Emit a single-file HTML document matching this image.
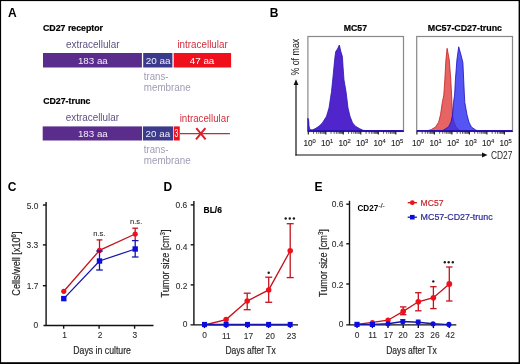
<!DOCTYPE html>
<html><head><meta charset="utf-8"><style>
html,body{margin:0;padding:0;background:#fff;overflow:hidden;}
svg{display:block;will-change:transform;}
text{font-family:"Liberation Sans",sans-serif;}
.b{font-weight:bold;}
</style></head><body>
<svg width="520" height="364" viewBox="0 0 520 364">
<rect x="0" y="0" width="520" height="364" fill="#000"/>
<rect x="1.1" y="1.1" width="517.5" height="361.1" fill="#fff"/>
<text x="8" y="16.8" font-size="12" fill="#000" font-weight="bold">A</text>
<text x="269.8" y="17" font-size="12" fill="#000" font-weight="bold">B</text>
<text x="7.8" y="191" font-size="12" fill="#000" font-weight="bold">C</text>
<text x="163.5" y="191" font-size="12" fill="#000" font-weight="bold">D</text>
<text x="314.6" y="191" font-size="12" fill="#000" font-weight="bold">E</text>
<text x="43" y="30.7" font-size="8.8" fill="#000" font-weight="bold" textLength="60" lengthAdjust="spacingAndGlyphs" stroke="#000" stroke-width="0.2">CD27 receptor</text>
<text x="66" y="47.6" font-size="10" fill="#5e5284" textLength="53.6" lengthAdjust="spacingAndGlyphs">extracellular</text>
<text x="177.4" y="47.9" font-size="10" fill="#d02f3c" textLength="50.4" lengthAdjust="spacingAndGlyphs">intracellular</text>
<rect x="43" y="53" width="98.9" height="14.5" fill="#5a2d8c"/>
<rect x="143.2" y="53" width="29.2" height="14.5" fill="#3c3a8a"/>
<rect x="173.7" y="53" width="57.4" height="14.5" fill="#ef101c"/>
<text x="77.9" y="63.6" font-size="9.7" fill="#f4eefa" textLength="29.9" lengthAdjust="spacingAndGlyphs">183 aa</text>
<text x="145.7" y="63.5" font-size="9.6" fill="#f0f0fa" textLength="24.9" lengthAdjust="spacingAndGlyphs">20 aa</text>
<text x="189.8" y="63.7" font-size="9.7" fill="#fff" textLength="24.5" lengthAdjust="spacingAndGlyphs">47 aa</text>
<text x="143.8" y="79.9" font-size="10" fill="#a09cb4" textLength="24.6" lengthAdjust="spacingAndGlyphs">trans-</text>
<text x="143.8" y="91.3" font-size="10" fill="#a09cb4" textLength="46.9" lengthAdjust="spacingAndGlyphs">membrane</text>
<text x="43.2" y="104.1" font-size="8.8" fill="#000" font-weight="bold" textLength="47.3" lengthAdjust="spacingAndGlyphs" stroke="#000" stroke-width="0.2">CD27-trunc</text>
<text x="65.8" y="121.4" font-size="10" fill="#5e5284" textLength="53.2" lengthAdjust="spacingAndGlyphs">extracellular</text>
<text x="179.7" y="121.5" font-size="10" fill="#d02f3c" textLength="49.7" lengthAdjust="spacingAndGlyphs">intracellular</text>
<rect x="42.7" y="126.4" width="99.3" height="14.1" fill="#5a2d8c"/>
<rect x="142.9" y="126.4" width="30.1" height="14.1" fill="#3c3a8a"/>
<rect x="173.7" y="126.4" width="6.05" height="14.1" fill="#ef101c"/>
<text x="77.9" y="137" font-size="9.7" fill="#f4eefa" textLength="29.9" lengthAdjust="spacingAndGlyphs">183 aa</text>
<text x="145.6" y="137" font-size="9.6" fill="#f0f0fa" textLength="24.5" lengthAdjust="spacingAndGlyphs">20 aa</text>
<text x="174.4" y="137" font-size="10" fill="#fff" textLength="3.9" lengthAdjust="spacingAndGlyphs">3</text>
<line x1="179.7" y1="133.6" x2="229.9" y2="133.6" stroke="#b83038" stroke-width="1.3"/>
<path d="M196.3 128.2 L205.6 139.4 M205.4 128.2 L196 139.4" stroke="#dc1e2a" stroke-width="2" fill="none"/>
<text x="143.8" y="152.6" font-size="10" fill="#a09cb4" textLength="24.6" lengthAdjust="spacingAndGlyphs">trans-</text>
<text x="143.8" y="164.4" font-size="10" fill="#a09cb4" textLength="46.9" lengthAdjust="spacingAndGlyphs">membrane</text>
<text x="343.8" y="31.1" font-size="8.9" fill="#000" font-weight="bold" textLength="23.2" lengthAdjust="spacingAndGlyphs" stroke="#000" stroke-width="0.2">MC57</text>
<text x="427.8" y="30.9" font-size="8.9" fill="#000" font-weight="bold" textLength="74.2" lengthAdjust="spacingAndGlyphs" stroke="#000" stroke-width="0.2">MC57-CD27-trunc</text>
<g transform="translate(299.3,75.6) rotate(-90) scale(0.85,1)"><text x="0" y="0" font-size="10.4" fill="#2a2a2a" stroke="#2a2a2a" stroke-width="0.06">% of max</text></g>
<line x1="296" y1="83" x2="296" y2="155.6" stroke="#111" stroke-width="1.2"/>
<path d="M293.6 85 L296 79.3 L298.4 85 Z" fill="#111"/>
<line x1="295.4" y1="155" x2="483" y2="155" stroke="#111" stroke-width="1.2"/>
<path d="M482 152.6 L487.5 155 L482 157.4 Z" fill="#111"/>
<text x="491" y="159.4" font-size="10" fill="#262626" textLength="21.4" lengthAdjust="spacingAndGlyphs">CD27</text>
<rect x="307.9" y="36.5" width="95.60000000000002" height="95.0" fill="none" stroke="#888" stroke-width="1.2"/>
<rect x="416.7" y="36.5" width="95.80000000000001" height="95.0" fill="none" stroke="#888" stroke-width="1.2"/>
<path d="M307.8 131.3 L307.8 118.2 L308.6 119.5 L309 126 L309.8 129.4 L312 130 L315 128.8 L319 126.2 L322.4 122.9 L326.5 116.3 L329 108 L331.5 91.5 L333.2 75 L333.9 67.5 L335 56.5 L335.75 51.5 L337.5 49 L339.3 45 L340.2 48.5 L340.7 51 L342.4 56.5 L343.1 67.5 L344 80 L346 91.5 L348 108 L350 116.3 L352.6 122.9 L355.4 126.2 L359.5 128.6 L363 130.3 L370 131 L403.5 131 L403.5 131.5 Z" fill="#5026cc" stroke="#2a14b8" stroke-width="0.8"/>
<path d="M425 131.5 L431.2 129.6 L435.5 127.1 L438.6 122.2 L440.5 114.8 L442.3 102.4 L443.8 95 L444.8 80 L445.9 60 L447.1 48.3 L449.3 60 L450.8 80 L451.6 95 L452 105 L452.5 115 L454 122 L456 127 L459 130 L462 131.5 Z" fill="#dd3030" fill-opacity="0.75" stroke="#c81e1e" stroke-width="0.8"/>
<path d="M440 131.5 L443.6 130 L448.5 127 L451 122 L452.5 114.8 L453.5 102.4 L454.6 95 L455.4 80 L456.9 60 L458.7 46.8 L461 55 L462.9 62.6 L463.7 80 L464.4 95 L464.8 102.4 L467 114.8 L468.9 122 L471.4 127 L475.7 130 L480 131.3 L512.5 131.5 Z" fill="#2a2af0" fill-opacity="0.8" stroke="#1a10c0" stroke-width="0.8"/>
<line x1="307.9" y1="130.9" x2="403.5" y2="130.9" stroke="#2a12b0" stroke-width="1.6"/>
<line x1="416.7" y1="130.9" x2="512.5" y2="130.9" stroke="#2a12b0" stroke-width="1.6"/>
<line x1="308.30" y1="131.6" x2="308.30" y2="134.6" stroke="#111" stroke-width="1.1"/>
<line x1="313.57" y1="131.6" x2="313.57" y2="133.8" stroke="#111" stroke-width="0.7"/>
<line x1="316.65" y1="131.6" x2="316.65" y2="133.8" stroke="#111" stroke-width="0.7"/>
<line x1="318.84" y1="131.6" x2="318.84" y2="133.8" stroke="#111" stroke-width="0.7"/>
<line x1="320.53" y1="131.6" x2="320.53" y2="133.8" stroke="#111" stroke-width="0.7"/>
<line x1="321.92" y1="131.6" x2="321.92" y2="133.8" stroke="#111" stroke-width="0.7"/>
<line x1="323.09" y1="131.6" x2="323.09" y2="133.8" stroke="#111" stroke-width="0.7"/>
<line x1="324.10" y1="131.6" x2="324.10" y2="133.8" stroke="#111" stroke-width="0.7"/>
<line x1="325.00" y1="131.6" x2="325.00" y2="133.8" stroke="#111" stroke-width="0.7"/>
<line x1="325.80" y1="131.6" x2="325.80" y2="134.6" stroke="#111" stroke-width="1.1"/>
<line x1="331.07" y1="131.6" x2="331.07" y2="133.8" stroke="#111" stroke-width="0.7"/>
<line x1="334.15" y1="131.6" x2="334.15" y2="133.8" stroke="#111" stroke-width="0.7"/>
<line x1="336.34" y1="131.6" x2="336.34" y2="133.8" stroke="#111" stroke-width="0.7"/>
<line x1="338.03" y1="131.6" x2="338.03" y2="133.8" stroke="#111" stroke-width="0.7"/>
<line x1="339.42" y1="131.6" x2="339.42" y2="133.8" stroke="#111" stroke-width="0.7"/>
<line x1="340.59" y1="131.6" x2="340.59" y2="133.8" stroke="#111" stroke-width="0.7"/>
<line x1="341.60" y1="131.6" x2="341.60" y2="133.8" stroke="#111" stroke-width="0.7"/>
<line x1="342.50" y1="131.6" x2="342.50" y2="133.8" stroke="#111" stroke-width="0.7"/>
<line x1="343.30" y1="131.6" x2="343.30" y2="134.6" stroke="#111" stroke-width="1.1"/>
<line x1="348.57" y1="131.6" x2="348.57" y2="133.8" stroke="#111" stroke-width="0.7"/>
<line x1="351.65" y1="131.6" x2="351.65" y2="133.8" stroke="#111" stroke-width="0.7"/>
<line x1="353.84" y1="131.6" x2="353.84" y2="133.8" stroke="#111" stroke-width="0.7"/>
<line x1="355.53" y1="131.6" x2="355.53" y2="133.8" stroke="#111" stroke-width="0.7"/>
<line x1="356.92" y1="131.6" x2="356.92" y2="133.8" stroke="#111" stroke-width="0.7"/>
<line x1="358.09" y1="131.6" x2="358.09" y2="133.8" stroke="#111" stroke-width="0.7"/>
<line x1="359.10" y1="131.6" x2="359.10" y2="133.8" stroke="#111" stroke-width="0.7"/>
<line x1="360.00" y1="131.6" x2="360.00" y2="133.8" stroke="#111" stroke-width="0.7"/>
<line x1="360.80" y1="131.6" x2="360.80" y2="134.6" stroke="#111" stroke-width="1.1"/>
<line x1="366.07" y1="131.6" x2="366.07" y2="133.8" stroke="#111" stroke-width="0.7"/>
<line x1="369.15" y1="131.6" x2="369.15" y2="133.8" stroke="#111" stroke-width="0.7"/>
<line x1="371.34" y1="131.6" x2="371.34" y2="133.8" stroke="#111" stroke-width="0.7"/>
<line x1="373.03" y1="131.6" x2="373.03" y2="133.8" stroke="#111" stroke-width="0.7"/>
<line x1="374.42" y1="131.6" x2="374.42" y2="133.8" stroke="#111" stroke-width="0.7"/>
<line x1="375.59" y1="131.6" x2="375.59" y2="133.8" stroke="#111" stroke-width="0.7"/>
<line x1="376.60" y1="131.6" x2="376.60" y2="133.8" stroke="#111" stroke-width="0.7"/>
<line x1="377.50" y1="131.6" x2="377.50" y2="133.8" stroke="#111" stroke-width="0.7"/>
<line x1="378.30" y1="131.6" x2="378.30" y2="134.6" stroke="#111" stroke-width="1.1"/>
<line x1="383.57" y1="131.6" x2="383.57" y2="133.8" stroke="#111" stroke-width="0.7"/>
<line x1="386.65" y1="131.6" x2="386.65" y2="133.8" stroke="#111" stroke-width="0.7"/>
<line x1="388.84" y1="131.6" x2="388.84" y2="133.8" stroke="#111" stroke-width="0.7"/>
<line x1="390.53" y1="131.6" x2="390.53" y2="133.8" stroke="#111" stroke-width="0.7"/>
<line x1="391.92" y1="131.6" x2="391.92" y2="133.8" stroke="#111" stroke-width="0.7"/>
<line x1="393.09" y1="131.6" x2="393.09" y2="133.8" stroke="#111" stroke-width="0.7"/>
<line x1="394.10" y1="131.6" x2="394.10" y2="133.8" stroke="#111" stroke-width="0.7"/>
<line x1="395.00" y1="131.6" x2="395.00" y2="133.8" stroke="#111" stroke-width="0.7"/>
<line x1="395.80" y1="131.6" x2="395.80" y2="134.6" stroke="#111" stroke-width="1.1"/>
<text x="303.40" y="146.2" font-size="8.2" fill="#222" stroke="#222" stroke-width="0.12">10<tspan font-size="5.8" dy="-3.4">0</tspan></text>
<text x="320.90" y="146.2" font-size="8.2" fill="#222" stroke="#222" stroke-width="0.12">10<tspan font-size="5.8" dy="-3.4">1</tspan></text>
<text x="338.40" y="146.2" font-size="8.2" fill="#222" stroke="#222" stroke-width="0.12">10<tspan font-size="5.8" dy="-3.4">2</tspan></text>
<text x="355.90" y="146.2" font-size="8.2" fill="#222" stroke="#222" stroke-width="0.12">10<tspan font-size="5.8" dy="-3.4">3</tspan></text>
<text x="373.40" y="146.2" font-size="8.2" fill="#222" stroke="#222" stroke-width="0.12">10<tspan font-size="5.8" dy="-3.4">4</tspan></text>
<text x="390.90" y="146.2" font-size="8.2" fill="#222" stroke="#222" stroke-width="0.12">10<tspan font-size="5.8" dy="-3.4">5</tspan></text>
<line x1="416.90" y1="131.6" x2="416.90" y2="134.6" stroke="#111" stroke-width="1.1"/>
<line x1="422.17" y1="131.6" x2="422.17" y2="133.8" stroke="#111" stroke-width="0.7"/>
<line x1="425.25" y1="131.6" x2="425.25" y2="133.8" stroke="#111" stroke-width="0.7"/>
<line x1="427.44" y1="131.6" x2="427.44" y2="133.8" stroke="#111" stroke-width="0.7"/>
<line x1="429.13" y1="131.6" x2="429.13" y2="133.8" stroke="#111" stroke-width="0.7"/>
<line x1="430.52" y1="131.6" x2="430.52" y2="133.8" stroke="#111" stroke-width="0.7"/>
<line x1="431.69" y1="131.6" x2="431.69" y2="133.8" stroke="#111" stroke-width="0.7"/>
<line x1="432.70" y1="131.6" x2="432.70" y2="133.8" stroke="#111" stroke-width="0.7"/>
<line x1="433.60" y1="131.6" x2="433.60" y2="133.8" stroke="#111" stroke-width="0.7"/>
<line x1="434.40" y1="131.6" x2="434.40" y2="134.6" stroke="#111" stroke-width="1.1"/>
<line x1="439.67" y1="131.6" x2="439.67" y2="133.8" stroke="#111" stroke-width="0.7"/>
<line x1="442.75" y1="131.6" x2="442.75" y2="133.8" stroke="#111" stroke-width="0.7"/>
<line x1="444.94" y1="131.6" x2="444.94" y2="133.8" stroke="#111" stroke-width="0.7"/>
<line x1="446.63" y1="131.6" x2="446.63" y2="133.8" stroke="#111" stroke-width="0.7"/>
<line x1="448.02" y1="131.6" x2="448.02" y2="133.8" stroke="#111" stroke-width="0.7"/>
<line x1="449.19" y1="131.6" x2="449.19" y2="133.8" stroke="#111" stroke-width="0.7"/>
<line x1="450.20" y1="131.6" x2="450.20" y2="133.8" stroke="#111" stroke-width="0.7"/>
<line x1="451.10" y1="131.6" x2="451.10" y2="133.8" stroke="#111" stroke-width="0.7"/>
<line x1="451.90" y1="131.6" x2="451.90" y2="134.6" stroke="#111" stroke-width="1.1"/>
<line x1="457.17" y1="131.6" x2="457.17" y2="133.8" stroke="#111" stroke-width="0.7"/>
<line x1="460.25" y1="131.6" x2="460.25" y2="133.8" stroke="#111" stroke-width="0.7"/>
<line x1="462.44" y1="131.6" x2="462.44" y2="133.8" stroke="#111" stroke-width="0.7"/>
<line x1="464.13" y1="131.6" x2="464.13" y2="133.8" stroke="#111" stroke-width="0.7"/>
<line x1="465.52" y1="131.6" x2="465.52" y2="133.8" stroke="#111" stroke-width="0.7"/>
<line x1="466.69" y1="131.6" x2="466.69" y2="133.8" stroke="#111" stroke-width="0.7"/>
<line x1="467.70" y1="131.6" x2="467.70" y2="133.8" stroke="#111" stroke-width="0.7"/>
<line x1="468.60" y1="131.6" x2="468.60" y2="133.8" stroke="#111" stroke-width="0.7"/>
<line x1="469.40" y1="131.6" x2="469.40" y2="134.6" stroke="#111" stroke-width="1.1"/>
<line x1="474.67" y1="131.6" x2="474.67" y2="133.8" stroke="#111" stroke-width="0.7"/>
<line x1="477.75" y1="131.6" x2="477.75" y2="133.8" stroke="#111" stroke-width="0.7"/>
<line x1="479.94" y1="131.6" x2="479.94" y2="133.8" stroke="#111" stroke-width="0.7"/>
<line x1="481.63" y1="131.6" x2="481.63" y2="133.8" stroke="#111" stroke-width="0.7"/>
<line x1="483.02" y1="131.6" x2="483.02" y2="133.8" stroke="#111" stroke-width="0.7"/>
<line x1="484.19" y1="131.6" x2="484.19" y2="133.8" stroke="#111" stroke-width="0.7"/>
<line x1="485.20" y1="131.6" x2="485.20" y2="133.8" stroke="#111" stroke-width="0.7"/>
<line x1="486.10" y1="131.6" x2="486.10" y2="133.8" stroke="#111" stroke-width="0.7"/>
<line x1="486.90" y1="131.6" x2="486.90" y2="134.6" stroke="#111" stroke-width="1.1"/>
<line x1="492.17" y1="131.6" x2="492.17" y2="133.8" stroke="#111" stroke-width="0.7"/>
<line x1="495.25" y1="131.6" x2="495.25" y2="133.8" stroke="#111" stroke-width="0.7"/>
<line x1="497.44" y1="131.6" x2="497.44" y2="133.8" stroke="#111" stroke-width="0.7"/>
<line x1="499.13" y1="131.6" x2="499.13" y2="133.8" stroke="#111" stroke-width="0.7"/>
<line x1="500.52" y1="131.6" x2="500.52" y2="133.8" stroke="#111" stroke-width="0.7"/>
<line x1="501.69" y1="131.6" x2="501.69" y2="133.8" stroke="#111" stroke-width="0.7"/>
<line x1="502.70" y1="131.6" x2="502.70" y2="133.8" stroke="#111" stroke-width="0.7"/>
<line x1="503.60" y1="131.6" x2="503.60" y2="133.8" stroke="#111" stroke-width="0.7"/>
<line x1="504.40" y1="131.6" x2="504.40" y2="134.6" stroke="#111" stroke-width="1.1"/>
<text x="412.00" y="146.2" font-size="8.2" fill="#222" stroke="#222" stroke-width="0.12">10<tspan font-size="5.8" dy="-3.4">0</tspan></text>
<text x="429.50" y="146.2" font-size="8.2" fill="#222" stroke="#222" stroke-width="0.12">10<tspan font-size="5.8" dy="-3.4">1</tspan></text>
<text x="447.00" y="146.2" font-size="8.2" fill="#222" stroke="#222" stroke-width="0.12">10<tspan font-size="5.8" dy="-3.4">2</tspan></text>
<text x="464.50" y="146.2" font-size="8.2" fill="#222" stroke="#222" stroke-width="0.12">10<tspan font-size="5.8" dy="-3.4">3</tspan></text>
<text x="482.00" y="146.2" font-size="8.2" fill="#222" stroke="#222" stroke-width="0.12">10<tspan font-size="5.8" dy="-3.4">4</tspan></text>
<text x="499.50" y="146.2" font-size="8.2" fill="#222" stroke="#222" stroke-width="0.12">10<tspan font-size="5.8" dy="-3.4">5</tspan></text>
<g stroke="#111" stroke-width="1.4" fill="none">
<line x1="46.1" y1="202" x2="46.1" y2="325.5"/>
<line x1="43.5" y1="325.5" x2="153.5" y2="325.5"/>
<line x1="42.9" y1="205" x2="46.1" y2="205"/>
<line x1="42.9" y1="244.9" x2="46.1" y2="244.9"/>
<line x1="42.9" y1="285.7" x2="46.1" y2="285.7"/>
<line x1="63.65" y1="325.5" x2="63.65" y2="328.7"/>
<line x1="99.1" y1="325.5" x2="99.1" y2="328.7"/>
<line x1="134.6" y1="325.5" x2="134.6" y2="328.7"/>
</g>
<text x="32.5" y="208.8" font-size="8.4" fill="#2a2a2a" text-anchor="middle" stroke="#2a2a2a" stroke-width="0.08">5.0</text>
<text x="32.4" y="248" font-size="8.4" fill="#2a2a2a" text-anchor="middle" stroke="#2a2a2a" stroke-width="0.08">3.3</text>
<text x="32.6" y="288.8" font-size="8.4" fill="#2a2a2a" text-anchor="middle" stroke="#2a2a2a" stroke-width="0.08">1.7</text>
<text x="35.8" y="327.6" font-size="8.4" fill="#2a2a2a" text-anchor="middle" stroke="#2a2a2a" stroke-width="0.08">0</text>
<text x="64.5" y="337.8" font-size="8.4" fill="#2a2a2a" text-anchor="middle" stroke="#2a2a2a" stroke-width="0.08">1</text>
<text x="100" y="337.8" font-size="8.4" fill="#2a2a2a" text-anchor="middle" stroke="#2a2a2a" stroke-width="0.08">2</text>
<text x="134.9" y="337.8" font-size="8.4" fill="#2a2a2a" text-anchor="middle" stroke="#2a2a2a" stroke-width="0.08">3</text>
<g transform="translate(73.3,353.5) scale(0.832,1)"><text x="0" y="0" font-size="10.5" fill="#2a2a2a" stroke="#2a2a2a" stroke-width="0.2">Days in culture</text></g>
<g transform="translate(19.9,295.7) rotate(-90) scale(0.87,1)"><text x="0" y="0" font-size="10.5" fill="#2a2a2a" stroke="#2a2a2a" stroke-width="0.2">Cells/well [x10<tspan font-size="7" dy="-4">6</tspan><tspan dy="4">]</tspan></text></g>
<line x1="99.5" y1="239.9" x2="99.5" y2="250.4" stroke="#c4121e" stroke-width="1.3"/>
<line x1="96.6" y1="239.9" x2="102.4" y2="239.9" stroke="#c4121e" stroke-width="1.3"/>
<line x1="135.2" y1="228.2" x2="135.2" y2="240" stroke="#c4121e" stroke-width="1.3"/>
<line x1="132.29999999999998" y1="228.2" x2="138.1" y2="228.2" stroke="#c4121e" stroke-width="1.3"/>
<polyline points="63.8,291.3 99.5,250.4 135.2,234" stroke="#c4121e" stroke-width="1.3" fill="none"/>
<circle cx="63.8" cy="291.3" r="2.6" fill="#f0101c"/>
<circle cx="99.5" cy="250.4" r="2.6" fill="#f0101c"/>
<circle cx="135.2" cy="234" r="2.6" fill="#f0101c"/>
<line x1="99.5" y1="251" x2="99.5" y2="270" stroke="#1616aa" stroke-width="1.3"/>
<line x1="96.2" y1="251" x2="102.8" y2="251" stroke="#1616aa" stroke-width="1.3"/>
<line x1="96.2" y1="270" x2="102.8" y2="270" stroke="#1616aa" stroke-width="1.3"/>
<line x1="135.2" y1="240.6" x2="135.2" y2="257" stroke="#1616aa" stroke-width="1.3"/>
<line x1="131.89999999999998" y1="240.6" x2="138.5" y2="240.6" stroke="#1616aa" stroke-width="1.3"/>
<line x1="131.89999999999998" y1="257" x2="138.5" y2="257" stroke="#1616aa" stroke-width="1.3"/>
<polyline points="63.8,298.6 99.5,261 135.2,249" stroke="#1616aa" stroke-width="1.3" fill="none"/>
<rect x="61.099999999999994" y="295.90000000000003" width="5.4" height="5.4" fill="#0c0ce0"/>
<rect x="96.8" y="258.3" width="5.4" height="5.4" fill="#0c0ce0"/>
<rect x="132.5" y="246.3" width="5.4" height="5.4" fill="#0c0ce0"/>
<text x="93.2" y="236" font-size="7.6" fill="#2a2a2a" stroke="#2a2a2a" stroke-width="0.08">n.s.</text>
<text x="130" y="223.8" font-size="7.6" fill="#2a2a2a" stroke="#2a2a2a" stroke-width="0.08">n.s.</text>
<g stroke="#111" stroke-width="1.4" fill="none">
<line x1="193.9" y1="201" x2="193.9" y2="324.9"/>
<line x1="190.5" y1="324.9" x2="298" y2="324.9"/>
<line x1="190.70000000000002" y1="204.9" x2="193.9" y2="204.9"/>
<line x1="190.70000000000002" y1="244.8" x2="193.9" y2="244.8"/>
<line x1="190.70000000000002" y1="284.9" x2="193.9" y2="284.9"/>
<line x1="204.5" y1="324.9" x2="204.5" y2="328.09999999999997"/>
<line x1="226.1" y1="324.9" x2="226.1" y2="328.09999999999997"/>
<line x1="247.5" y1="324.9" x2="247.5" y2="328.09999999999997"/>
<line x1="268.6" y1="324.9" x2="268.6" y2="328.09999999999997"/>
<line x1="290.2" y1="324.9" x2="290.2" y2="328.09999999999997"/>
</g>
<text x="181.4" y="207.5" font-size="8.4" fill="#2a2a2a" text-anchor="middle" stroke="#2a2a2a" stroke-width="0.08">0.6</text>
<text x="181.5" y="249.5" font-size="8.4" fill="#2a2a2a" text-anchor="middle" stroke="#2a2a2a" stroke-width="0.08">0.4</text>
<text x="181.5" y="289.1" font-size="8.4" fill="#2a2a2a" text-anchor="middle" stroke="#2a2a2a" stroke-width="0.08">0.2</text>
<text x="185.2" y="326.8" font-size="8.4" fill="#2a2a2a" text-anchor="middle" stroke="#2a2a2a" stroke-width="0.08">0</text>
<text x="204.65" y="338.3" font-size="8.4" fill="#2a2a2a" text-anchor="middle" stroke="#2a2a2a" stroke-width="0.08">0</text>
<text x="226.25" y="338.9" font-size="8.4" fill="#2a2a2a" text-anchor="middle" stroke="#2a2a2a" stroke-width="0.08">11</text>
<text x="248.5" y="338.9" font-size="8.4" fill="#2a2a2a" text-anchor="middle" stroke="#2a2a2a" stroke-width="0.08">17</text>
<text x="270.2" y="338.9" font-size="8.4" fill="#2a2a2a" text-anchor="middle" stroke="#2a2a2a" stroke-width="0.08">20</text>
<text x="291.4" y="338.9" font-size="8.4" fill="#2a2a2a" text-anchor="middle" stroke="#2a2a2a" stroke-width="0.08">23</text>
<text x="203.6" y="212.5" font-size="8.6" fill="#000" font-weight="bold" textLength="18.3" lengthAdjust="spacingAndGlyphs" stroke="#000" stroke-width="0.2">BL/6</text>
<g transform="translate(225.4,353.6) scale(0.81,1)"><text x="0" y="0" font-size="10.5" fill="#2a2a2a" stroke="#2a2a2a" stroke-width="0.2">Days after Tx</text></g>
<g transform="translate(168.5,297.5) rotate(-90) scale(0.87,1)"><text x="0" y="0" font-size="10.5" fill="#2a2a2a" stroke="#2a2a2a" stroke-width="0.2">Tumor size [cm<tspan font-size="7" dy="-4">3</tspan><tspan dy="4">]</tspan></text></g>
<line x1="247.2" y1="293.2" x2="247.2" y2="309.7" stroke="#c4121e" stroke-width="1.3"/>
<line x1="243.7" y1="293.2" x2="250.7" y2="293.2" stroke="#c4121e" stroke-width="1.3"/>
<line x1="243.7" y1="309.7" x2="250.7" y2="309.7" stroke="#c4121e" stroke-width="1.3"/>
<line x1="268.7" y1="277.2" x2="268.7" y2="302.3" stroke="#c4121e" stroke-width="1.3"/>
<line x1="265.2" y1="277.2" x2="272.2" y2="277.2" stroke="#c4121e" stroke-width="1.3"/>
<line x1="265.2" y1="302.3" x2="272.2" y2="302.3" stroke="#c4121e" stroke-width="1.3"/>
<line x1="290.2" y1="223.7" x2="290.2" y2="277.6" stroke="#c4121e" stroke-width="1.3"/>
<line x1="286.7" y1="223.7" x2="293.7" y2="223.7" stroke="#c4121e" stroke-width="1.3"/>
<line x1="286.7" y1="277.6" x2="293.7" y2="277.6" stroke="#c4121e" stroke-width="1.3"/>
<polyline points="204.5,325 226.1,319.6 247.2,301.1 268.7,289.9 290.2,250.8" stroke="#c4121e" stroke-width="1.3" fill="none"/>
<circle cx="226.1" cy="319.6" r="2.75" fill="#f0101c"/>
<circle cx="247.2" cy="301.1" r="2.75" fill="#f0101c"/>
<circle cx="268.7" cy="289.9" r="2.75" fill="#f0101c"/>
<circle cx="290.2" cy="250.8" r="2.75" fill="#f0101c"/>
<line x1="204.5" y1="324.6" x2="290.2" y2="324.6" stroke="#1616aa" stroke-width="1.6"/>
<rect x="202.0" y="321.9" width="5" height="5.2" fill="#0c0ce0"/>
<rect x="223.6" y="321.9" width="5" height="5.2" fill="#0c0ce0"/>
<rect x="245.0" y="321.9" width="5" height="5.2" fill="#0c0ce0"/>
<rect x="266.1" y="321.9" width="5" height="5.2" fill="#0c0ce0"/>
<rect x="287.7" y="321.9" width="5" height="5.2" fill="#0c0ce0"/>
<circle cx="268.7" cy="272.7" r="1.2" fill="#1c1c1c"/>
<circle cx="285.7" cy="218.5" r="1.2" fill="#1c1c1c"/>
<circle cx="289.8" cy="218.5" r="1.2" fill="#1c1c1c"/>
<circle cx="293.9" cy="218.5" r="1.2" fill="#1c1c1c"/>
<g stroke="#111" stroke-width="1.4" fill="none">
<line x1="349.5" y1="200.8" x2="349.5" y2="324.9"/>
<line x1="346.2" y1="324.9" x2="456.3" y2="324.9"/>
<line x1="346.3" y1="204.2" x2="349.5" y2="204.2"/>
<line x1="346.3" y1="243.8" x2="349.5" y2="243.8"/>
<line x1="346.3" y1="284" x2="349.5" y2="284"/>
<line x1="357" y1="324.9" x2="357" y2="328.09999999999997"/>
<line x1="372.4" y1="324.9" x2="372.4" y2="328.09999999999997"/>
<line x1="388" y1="324.9" x2="388" y2="328.09999999999997"/>
<line x1="403.2" y1="324.9" x2="403.2" y2="328.09999999999997"/>
<line x1="418.3" y1="324.9" x2="418.3" y2="328.09999999999997"/>
<line x1="433.4" y1="324.9" x2="433.4" y2="328.09999999999997"/>
<line x1="449.3" y1="324.9" x2="449.3" y2="328.09999999999997"/>
</g>
<text x="337.6" y="206.5" font-size="8.4" fill="#2a2a2a" text-anchor="middle" stroke="#2a2a2a" stroke-width="0.08">0.6</text>
<text x="337.6" y="246.9" font-size="8.4" fill="#2a2a2a" text-anchor="middle" stroke="#2a2a2a" stroke-width="0.08">0.4</text>
<text x="337.6" y="287.5" font-size="8.4" fill="#2a2a2a" text-anchor="middle" stroke="#2a2a2a" stroke-width="0.08">0.2</text>
<text x="341" y="326.8" font-size="8.4" fill="#2a2a2a" text-anchor="middle" stroke="#2a2a2a" stroke-width="0.08">0</text>
<text x="357.2" y="338" font-size="8.4" fill="#2a2a2a" text-anchor="middle" stroke="#2a2a2a" stroke-width="0.08">0</text>
<text x="372.6" y="338" font-size="8.4" fill="#2a2a2a" text-anchor="middle" stroke="#2a2a2a" stroke-width="0.08">11</text>
<text x="388.5" y="338" font-size="8.4" fill="#2a2a2a" text-anchor="middle" stroke="#2a2a2a" stroke-width="0.08">17</text>
<text x="403" y="338" font-size="8.4" fill="#2a2a2a" text-anchor="middle" stroke="#2a2a2a" stroke-width="0.08">20</text>
<text x="419.5" y="338" font-size="8.4" fill="#2a2a2a" text-anchor="middle" stroke="#2a2a2a" stroke-width="0.08">23</text>
<text x="435" y="338" font-size="8.4" fill="#2a2a2a" text-anchor="middle" stroke="#2a2a2a" stroke-width="0.08">26</text>
<text x="450.2" y="338" font-size="8.4" fill="#2a2a2a" text-anchor="middle" stroke="#2a2a2a" stroke-width="0.08">42</text>
<text x="357.5" y="210.8" font-size="8.4" font-weight="bold" fill="#000" textLength="20.8" lengthAdjust="spacingAndGlyphs">CD27</text>
<text x="378.6" y="208.1" font-size="6.6" fill="#222" stroke="#222" stroke-width="0.15">-/-</text>
<g transform="translate(386.2,353.5) scale(0.815,1)"><text x="0" y="0" font-size="10.5" fill="#2a2a2a" stroke="#2a2a2a" stroke-width="0.2">Days after Tx</text></g>
<g transform="translate(326.7,297.1) rotate(-90) scale(0.87,1)"><text x="0" y="0" font-size="10.5" fill="#2a2a2a" stroke="#2a2a2a" stroke-width="0.2">Tumor size [cm<tspan font-size="7" dy="-4">3</tspan><tspan dy="4">]</tspan></text></g>
<line x1="407.7" y1="202.7" x2="416.9" y2="202.7" stroke="#c4121e" stroke-width="1.3"/>
<circle cx="412.3" cy="202.7" r="2.4" fill="#f0101c"/>
<text x="420.6" y="205.8" font-size="9.2" fill="#c8262e" textLength="22.8" lengthAdjust="spacingAndGlyphs" stroke="#c8262e" stroke-width="0.2">MC57</text>
<line x1="407.7" y1="217.2" x2="416.9" y2="217.2" stroke="#1616aa" stroke-width="1.3"/>
<rect x="410" y="214.9" width="4.6" height="4.6" fill="#0c0ce0"/>
<text x="420.6" y="219.9" font-size="9.2" fill="#2a2a98" textLength="72" lengthAdjust="spacingAndGlyphs" stroke="#2a2a98" stroke-width="0.2">MC57-CD27-trunc</text>
<line x1="403.2" y1="306.9" x2="403.2" y2="314.7" stroke="#c4121e" stroke-width="1.3"/>
<line x1="400.0" y1="306.9" x2="406.4" y2="306.9" stroke="#c4121e" stroke-width="1.3"/>
<line x1="400.0" y1="314.7" x2="406.4" y2="314.7" stroke="#c4121e" stroke-width="1.3"/>
<line x1="418.3" y1="292.7" x2="418.3" y2="310.8" stroke="#c4121e" stroke-width="1.3"/>
<line x1="415.1" y1="292.7" x2="421.5" y2="292.7" stroke="#c4121e" stroke-width="1.3"/>
<line x1="415.1" y1="310.8" x2="421.5" y2="310.8" stroke="#c4121e" stroke-width="1.3"/>
<line x1="433.4" y1="286.7" x2="433.4" y2="308.6" stroke="#c4121e" stroke-width="1.3"/>
<line x1="430.2" y1="286.7" x2="436.59999999999997" y2="286.7" stroke="#c4121e" stroke-width="1.3"/>
<line x1="430.2" y1="308.6" x2="436.59999999999997" y2="308.6" stroke="#c4121e" stroke-width="1.3"/>
<line x1="449.3" y1="267" x2="449.3" y2="301" stroke="#c4121e" stroke-width="1.3"/>
<line x1="446.1" y1="267" x2="452.5" y2="267" stroke="#c4121e" stroke-width="1.3"/>
<line x1="446.1" y1="301" x2="452.5" y2="301" stroke="#c4121e" stroke-width="1.3"/>
<polyline points="357,324.3 372.4,322.4 388,320.2 403.2,311.4 418.3,301.8 433.4,297.7 449.3,284" stroke="#c4121e" stroke-width="1.3" fill="none"/>
<circle cx="372.4" cy="322.4" r="2.4" fill="#f0101c"/>
<circle cx="388" cy="320.2" r="2.6" fill="#f0101c"/>
<circle cx="403.2" cy="311.4" r="2.8" fill="#f0101c"/>
<circle cx="418.3" cy="301.8" r="2.8" fill="#f0101c"/>
<circle cx="433.4" cy="297.7" r="2.8" fill="#f0101c"/>
<circle cx="449.3" cy="284" r="2.9" fill="#f0101c"/>
<line x1="402.8" y1="319.7" x2="402.8" y2="324" stroke="#1616aa" stroke-width="1.3"/>
<line x1="400.2" y1="319.7" x2="405.40000000000003" y2="319.7" stroke="#1616aa" stroke-width="1.3"/>
<line x1="418.2" y1="320.2" x2="418.2" y2="323" stroke="#1616aa" stroke-width="1.3"/>
<line x1="415.8" y1="320.2" x2="420.59999999999997" y2="320.2" stroke="#1616aa" stroke-width="1.3"/>
<polyline points="357,324.4 372.4,324.4 388,323.8 402.8,321.5 418.2,322.3 433,323.8 448.9,324.6" stroke="#1616aa" stroke-width="1.4" fill="none"/>
<rect x="354.4" y="321.79999999999995" width="5.2" height="5.2" fill="#0c0ce0"/>
<rect x="369.79999999999995" y="321.79999999999995" width="5.2" height="5.2" fill="#0c0ce0"/>
<circle cx="388" cy="323.8" r="2.6" fill="#0c0ce0"/>
<circle cx="402.8" cy="321.8" r="2.6" fill="#0c0ce0"/>
<circle cx="418.2" cy="322.3" r="2.6" fill="#0c0ce0"/>
<circle cx="433" cy="323.8" r="2.6" fill="#0c0ce0"/>
<circle cx="448.9" cy="324.4" r="2.6" fill="#0c0ce0"/>
<circle cx="433.3" cy="281.4" r="1.2" fill="#1c1c1c"/>
<circle cx="444.8" cy="262.2" r="1.2" fill="#1c1c1c"/>
<circle cx="448.7" cy="262.2" r="1.2" fill="#1c1c1c"/>
<circle cx="452.8" cy="262.2" r="1.2" fill="#1c1c1c"/>
</svg>
</body></html>
